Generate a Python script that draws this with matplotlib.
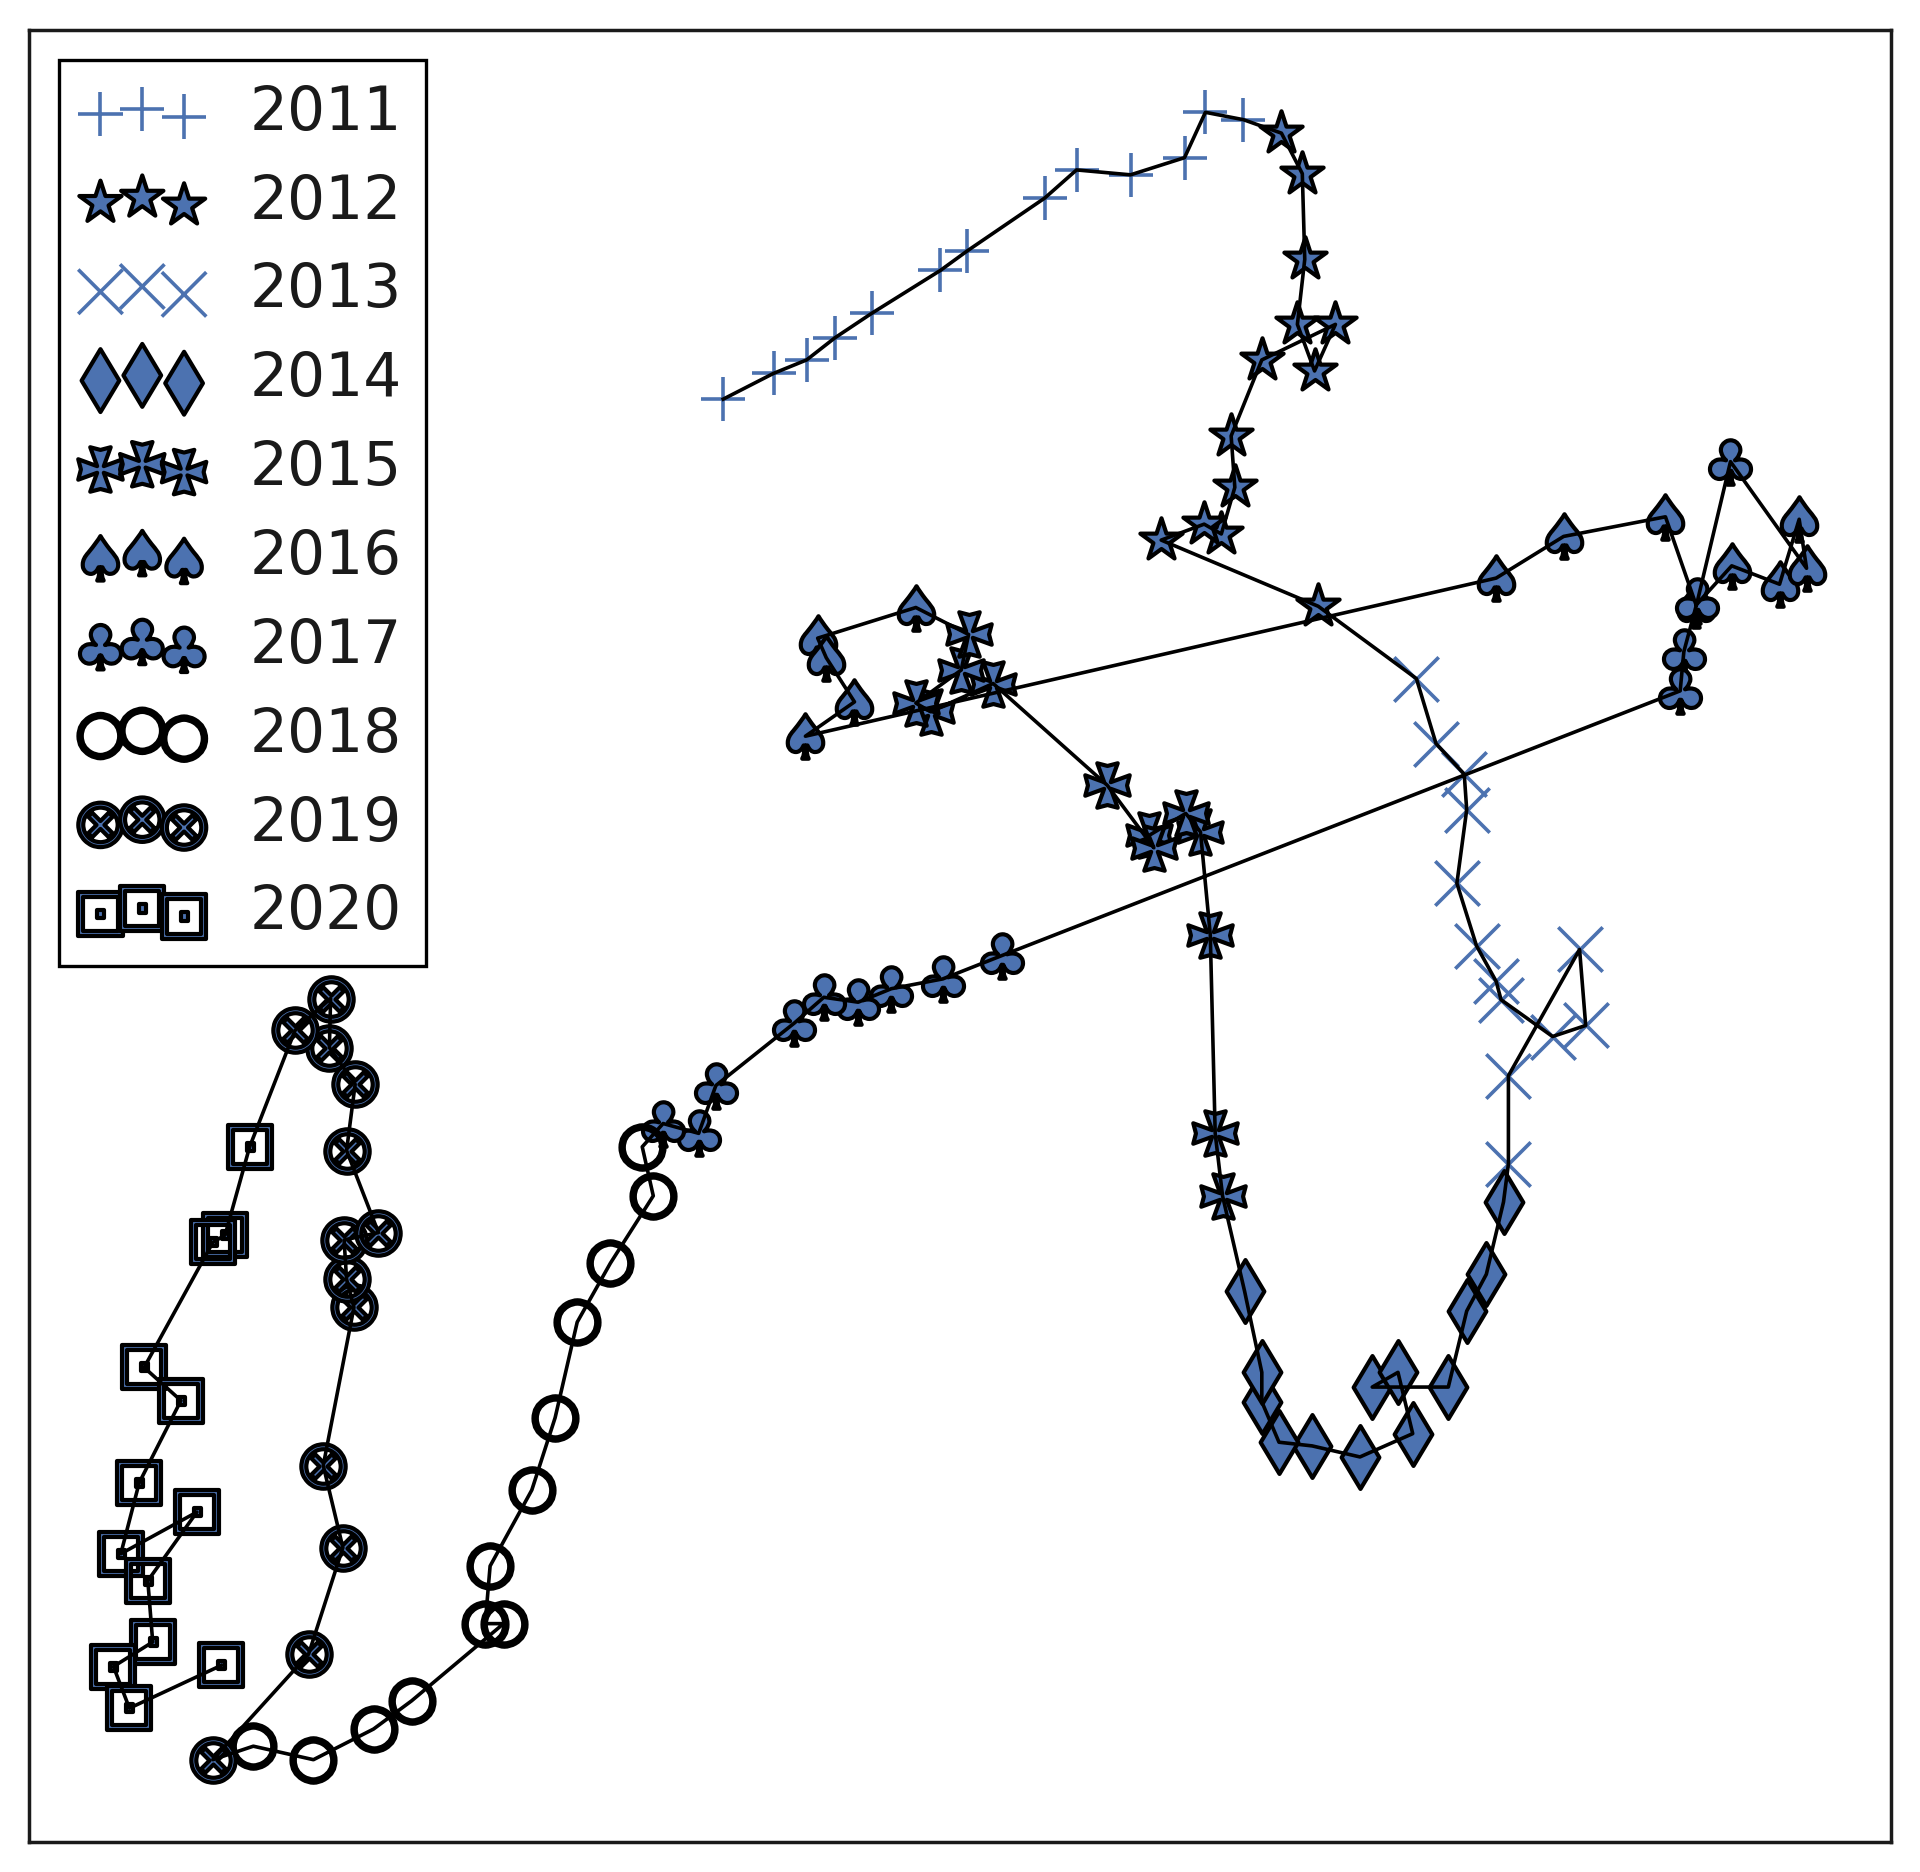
import matplotlib
matplotlib.use("Agg")
import matplotlib.pyplot as plt
from matplotlib.path import Path

years = ["2011", "2012", "2013", "2014", "2015", "2016", "2017", "2018", "2019", "2020"]

x_2011 = [592, 633, 660, 683, 713, 769, 791, 854, 880, 924, 968, 985, 1016]
y_2011 = [1179, 1200, 1211, 1229, 1249, 1284, 1300, 1343, 1366, 1362, 1376, 1413, 1407]
x_2012 = [1047, 1064, 1066, 1060, 1074, 1091, 1031, 1006, 1009, 998, 984, 949, 1077]
y_2012 = [1396, 1363, 1293, 1240, 1202, 1240, 1211, 1149, 1107, 1069, 1077, 1064, 1010]
x_2013 = [1157, 1173, 1196, 1198, 1190, 1206, 1222, 1226, 1268, 1295, 1290, 1232, 1232]
y_2013 = [951, 898, 873, 844, 784, 733, 704, 689, 659, 668, 730, 627, 555]
x_2014 = [1228, 1214, 1198, 1183, 1121, 1142, 1154, 1111, 1072, 1045, 1031, 1031, 1017]
y_2014 = [524, 465, 435, 373, 373, 385, 335, 316, 325, 328, 361, 385, 451]
x_2015 = [999, 993, 989, 981, 969, 939, 943, 905, 812, 761, 749, 786, 792]
y_2015 = [529, 580, 742, 826, 841, 823, 813, 864, 947, 924, 931, 958, 987]
x_2016 = [749, 669, 676, 699, 659, 1222, 1277, 1360, 1385, 1414, 1453, 1469, 1475]
y_2016 = [1009, 984, 968, 932, 904, 1033, 1067, 1083, 1011, 1043, 1028, 1081, 1041]
x_2017 = [1413, 1386, 1375, 1372, 819, 771, 729, 702, 674, 650, 586, 572, 543]
y_2017 = [1128, 1014, 973, 941, 725, 706, 698, 687, 691, 670, 619, 580, 588]
x_2018 = [526, 535, 500, 473, 455, 436, 402, 398, 413, 338, 307, 258, 209]
y_2018 = [569, 529, 474, 426, 348, 289, 227, 180, 180, 117, 94, 69, 80]
x_2019 = [176, 254, 282, 266, 291, 285, 283, 311, 285, 292, 271, 272, 243]
y_2019 = [69, 155, 242, 309, 438, 461, 493, 499, 566, 620, 650, 690, 664]
x_2020 = [206, 186, 176, 120, 150, 116, 101, 163, 123, 127, 95, 108, 183]
y_2020 = [569, 497, 491, 389, 362, 295, 237, 271, 215, 165, 145, 111, 146]

xs = [x_2011, x_2012, x_2013, x_2014, x_2015, x_2016, x_2017, x_2018, x_2019, x_2020]
ys = [y_2011, y_2012, y_2013, y_2014, y_2015, y_2016, y_2017, y_2018, y_2019, y_2020]

# cross pattee (maltese) outline
a, h, c = 0.46, 0.88, 0.15
maltese = Path([(-a, 1), (0, h), (a, 1), (c, c), (1, a), (h, 0), (1, -a), (c, -c),
                (a, -1), (0, -h), (-a, -1), (-c, -c), (-1, -a), (-h, 0), (-1, a), (-c, c),
                (-a, 1)], closed=True)

markers = ["+", "*", "x", "d", maltese, r"$\spadesuit$", r"$\clubsuit$",
           r"$\bigcirc$", r"$\otimes$", r"$\boxdot$"]

blue = "#4c72b0"

fig = plt.figure(figsize=(9.6, 9.36), dpi=200)
ax = fig.add_subplot(111)
fig.subplots_adjust(left=0.015, right=0.985, bottom=0.016, top=0.984)

# one continuous path through all years
all_x = [v for xx in xs for v in xx]
all_y = [v for yy in ys for v in yy]
ax.plot(all_x, all_y, color="k", lw=1.3, zorder=2)

for yr, m, xx, yy in zip(years, markers, xs, ys):
	if isinstance(m, str) and m in ("+", "x"):
		ax.scatter(xx, yy, marker=m, s=256, color=blue, linewidths=1.3, label=yr, zorder=1)
	else:
		ax.scatter(xx, yy, marker=m, s=256, facecolor=blue, edgecolor="k",
		           linewidths=1.5, label=yr, zorder=1)

ax.set_xticks([])
ax.set_yticks([])
for sp in ax.spines.values():
	sp.set_linewidth(1.25)
	sp.set_color("#1a1a1a")

leg = ax.legend(loc="upper left", scatterpoints=3, fontsize=21.5, fancybox=False,
                framealpha=1, edgecolor="k")
leg.get_frame().set_linewidth(1.2)
for t in leg.get_texts():
	t.set_color("#1a1a1a")

fig.savefig("out.png", dpi=200)
